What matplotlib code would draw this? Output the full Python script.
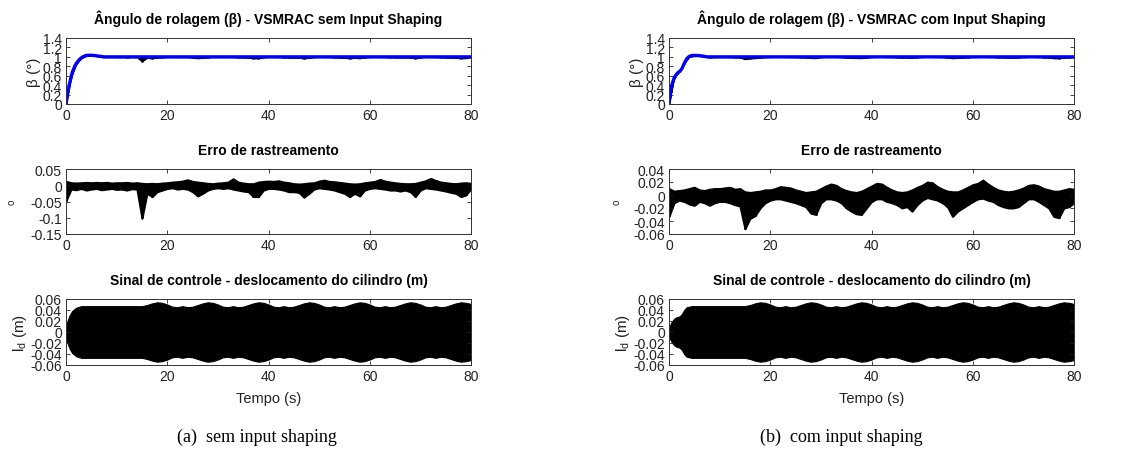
import numpy as np
import matplotlib
matplotlib.use('Agg')
import matplotlib.pyplot as plt
from matplotlib.ticker import FuncFormatter

plt.rcParams['font.family'] = ['Liberation Sans', 'DejaVu Sans']
plt.rcParams['axes.unicode_minus'] = False

# -------------------- dados --------------------
# referencia de beta (graus), sem / com input shaping
beta_t_sem = [0, 0.3, 0.66, 1.0, 1.3, 1.8, 2.3, 2.8, 3.3, 4.0, 4.6, 5.5, 6.5, 7.5, 80]
beta_sem = [0, 0.22, 0.41, 0.57, 0.69, 0.82, 0.90, 0.96, 1.0, 1.03, 1.035, 1.03, 1.015, 1.0, 1.0]
beta_t_com = [0, 0.3, 0.6, 1.0, 1.4, 1.8, 2.2, 2.6, 3.0, 3.5, 4.0, 4.6, 5.5, 6.5, 7.5, 80]
beta_com = [0, 0.25, 0.42, 0.55, 0.62, 0.67, 0.70, 0.76, 0.86, 0.96, 1.01, 1.03, 1.03, 1.02, 1.0, 1.0]

# erro de rastreamento: envoltoria superior / inferior a cada 1 s (t = 0..80)
err_t = list(range(81))
err_up_sem = [0.012, 0.008, 0.007, 0.008, 0.009, 0.008, 0.009, 0.008, 0.009, 0.007,
              0.008, 0.008, 0.009, 0.007, 0.008, 0.006, 0.005, 0.006, 0.005, 0.007,
              0.008, 0.010, 0.011, 0.013, 0.017, 0.012, 0.010, 0.008, 0.006, 0.005,
              0.007, 0.008, 0.010, 0.020, 0.010, 0.007, 0.005, 0.005, 0.010, 0.012,
              0.013, 0.012, 0.014, 0.010, 0.008, 0.005, 0.004, 0.005, 0.007, 0.008,
              0.013, 0.016, 0.012, 0.011, 0.009, 0.007, 0.005, 0.004, 0.005, 0.008,
              0.010, 0.012, 0.018, 0.013, 0.010, 0.008, 0.006, 0.005, 0.005, 0.006,
              0.010, 0.014, 0.021, 0.015, 0.010, 0.008, 0.006, 0.005, 0.007, 0.008,
              0.006]
err_lo_sem = [-0.048, -0.012, -0.014, -0.010, -0.015, -0.012, -0.010, -0.014, -0.012, -0.010,
              -0.013, -0.012, -0.015, -0.011, -0.012, -0.102, -0.025, -0.035, -0.020, -0.015,
              -0.010, -0.008, -0.012, -0.010, -0.012, -0.020, -0.033, -0.025, -0.015, -0.010,
              -0.008, -0.010, -0.008, -0.012, -0.015, -0.018, -0.020, -0.035, -0.035, -0.015,
              -0.010, -0.010, -0.012, -0.015, -0.020, -0.020, -0.022, -0.037, -0.025, -0.012,
              -0.008, -0.010, -0.012, -0.015, -0.020, -0.025, -0.035, -0.025, -0.033, -0.015,
              -0.010, -0.008, -0.010, -0.012, -0.015, -0.015, -0.018, -0.015, -0.020, -0.035,
              -0.015, -0.008, -0.010, -0.012, -0.015, -0.018, -0.022, -0.025, -0.035, -0.030,
              -0.010]
err_up_com = [0.010, 0.006, 0.007, 0.008, 0.010, 0.012, 0.008, 0.007, 0.009, 0.010,
              0.010, 0.011, 0.012, 0.009, 0.010, 0.005, 0.004, 0.005, 0.006, 0.008,
              0.008, 0.010, 0.013, 0.012, 0.011, 0.008, 0.006, 0.004, 0.005, 0.006,
              0.010, 0.014, 0.017, 0.015, 0.010, 0.007, 0.005, 0.004, 0.006, 0.010,
              0.014, 0.018, 0.017, 0.012, 0.008, 0.005, 0.004, 0.005, 0.008, 0.012,
              0.015, 0.020, 0.019, 0.013, 0.009, 0.006, 0.005, 0.005, 0.008, 0.012,
              0.016, 0.018, 0.023, 0.017, 0.012, 0.008, 0.006, 0.005, 0.006, 0.008,
              0.011, 0.015, 0.016, 0.014, 0.010, 0.008, 0.006, 0.006, 0.008, 0.010,
              0.009]
err_lo_com = [-0.033, -0.012, -0.008, -0.010, -0.014, -0.016, -0.010, -0.012, -0.016, -0.012,
              -0.010, -0.010, -0.012, -0.015, -0.017, -0.052, -0.036, -0.032, -0.020, -0.012,
              -0.008, -0.006, -0.006, -0.008, -0.010, -0.012, -0.015, -0.018, -0.028, -0.030,
              -0.012, -0.006, -0.006, -0.008, -0.012, -0.020, -0.025, -0.029, -0.030, -0.020,
              -0.010, -0.006, -0.006, -0.010, -0.012, -0.015, -0.020, -0.018, -0.025, -0.015,
              -0.008, -0.004, -0.006, -0.008, -0.012, -0.018, -0.033, -0.025, -0.020, -0.015,
              -0.010, -0.006, -0.005, -0.008, -0.010, -0.015, -0.018, -0.020, -0.020, -0.018,
              -0.012, -0.006, -0.006, -0.010, -0.015, -0.020, -0.033, -0.035, -0.020, -0.018,
              -0.012]

# sinal de controle: amplitude da envoltoria (m)
ctrl_t_sem = [0, 0.3, 0.7, 1.2, 2, 3]
ctrl_amp_sem = [0.008, 0.020, 0.030, 0.038, 0.044, 0.047]
ctrl_t_com = [0, 0.5, 1.0, 1.5, 2.0, 2.5, 3.0, 3.5]
ctrl_amp_com = [0.008, 0.018, 0.024, 0.027, 0.028, 0.032, 0.040, 0.045]
ctrl_t_tail = [4.5, 15, 16, 17, 18, 19, 20, 21, 22, 23, 24, 25, 26, 27, 28, 29, 30, 31, 32, 33,
               34, 35, 36, 37, 38, 39, 40, 41, 42, 43, 44, 45, 46, 47, 48, 49, 50, 51, 52, 53,
               54, 55, 56, 57, 58, 59, 60, 61, 62, 63, 64, 65, 66, 67, 68, 69, 70, 71, 72, 73,
               74, 75, 76, 77, 78, 79, 80]
ctrl_amp_tail = [0.047, 0.047, 0.049, 0.052, 0.054, 0.053, 0.050, 0.046, 0.045, 0.047,
                 0.045, 0.046, 0.049, 0.052, 0.054, 0.053, 0.050, 0.046, 0.045, 0.047,
                 0.045, 0.046, 0.049, 0.052, 0.054, 0.053, 0.050, 0.046, 0.045, 0.047,
                 0.045, 0.046, 0.049, 0.052, 0.054, 0.053, 0.050, 0.046, 0.045, 0.047,
                 0.045, 0.046, 0.049, 0.052, 0.054, 0.053, 0.050, 0.046, 0.045, 0.047,
                 0.045, 0.046, 0.049, 0.052, 0.054, 0.053, 0.050, 0.046, 0.045, 0.047,
                 0.045, 0.046, 0.049, 0.052, 0.054, 0.053, 0.051]

x_ticks = [0, 20, 40, 60, 80]
titles_top = ['Ângulo de rolagem (β) - VSMRAC sem Input Shaping',
              'Ângulo de rolagem (β) - VSMRAC com Input Shaping']
captions = ['(a)  sem input shaping', '(b)  com input shaping']

W, H = 1128, 460
fig = plt.figure(figsize=(W / 100, H / 100), dpi=100)


def px_axes(x0, y0, x1, y1):
    return fig.add_axes([x0 / W, 1 - y1 / H, (x1 - x0) / W, (y1 - y0) / H])


def style(ax, yticks, ylim):
    ax.set_xlim(0, 80)
    ax.set_ylim(*ylim)
    ax.set_xticks(x_ticks)
    ax.set_yticks(yticks)
    ax.yaxis.set_major_formatter(FuncFormatter(lambda v, p: '%g' % round(v, 4)))
    ax.tick_params(direction='in', top=True, right=True, length=3, width=0.6,
                   labelsize=10, colors='#222222', pad=3)
    for s in ax.spines.values():
        s.set_color('#333333')
        s.set_linewidth(0.7)


cols = [(66, 471), (669, 1074)]
data = [
    (beta_t_sem, beta_sem, err_up_sem, err_lo_sem, ctrl_t_sem, ctrl_amp_sem,
     [-0.15, -0.1, -0.05, 0, 0.05], (-0.15, 0.05)),
    (beta_t_com, beta_com, err_up_com, err_lo_com, ctrl_t_com, ctrl_amp_com,
     [-0.06, -0.04, -0.02, 0, 0.02, 0.04], (-0.06, 0.04)),
]
cap_x = [257, 841]

for k, (x0, x1) in enumerate(cols):
    bt, bv, up, lo, ct, ca, eticks, elim = data[k]
    et = np.array(err_t, dtype=float)
    up = np.array(up)
    lo = np.array(lo)

    # 1. angulo de rolagem (beta real em preto, referencia em azul)
    ax1 = px_axes(x0, 39, x1, 105)
    ref = np.interp(et, bt, bv)
    ax1.vlines(et, ref + lo, ref + up, color='k', lw=1.8)
    ax1.fill_between(et, ref + lo, ref + up, color='k', lw=0.6, edgecolor='k')
    ax1.plot(bt, bv, color='#0000ff', lw=2.4)
    style(ax1, [0, 0.2, 0.4, 0.6, 0.8, 1.0, 1.2, 1.4], (0, 1.4))
    ax1.set_title(titles_top[k], fontsize=10, fontweight='bold', pad=11)
    ax1.set_ylabel('β (°)', fontsize=11, color='#222222', labelpad=1)

    # 2. erro de rastreamento
    ax2 = px_axes(x0, 170, x1, 235)
    ax2.fill_between(et, lo, up, color='k', lw=1.4, edgecolor='k')
    ax2.vlines(et, lo, up, color='k', lw=2.0)
    style(ax2, eticks, elim)
    ax2.set_title('Erro de rastreamento', fontsize=10, fontweight='bold', pad=11)
    ax2.set_ylabel('o', fontsize=7, color='#222222', labelpad=10 if k == 0 else 8)

    # 3. sinal de controle
    ax3 = px_axes(x0, 300, x1, 366)
    t_all = np.array(ct + ctrl_t_tail, dtype=float)
    a_all = np.array(ca + ctrl_amp_tail)
    ax3.fill_between(t_all, -a_all, a_all, color='k', lw=0.8, edgecolor='k')
    style(ax3, [-0.06, -0.04, -0.02, 0, 0.02, 0.04, 0.06], (-0.06, 0.06))
    ax3.set_title('Sinal de controle - deslocamento do cilindro (m)', fontsize=10,
                  fontweight='bold', pad=11)
    ax3.set_ylabel(r'l$_\mathregular{d}$ (m)', fontsize=11, color='#222222', labelpad=1)
    ax3.set_xlabel('Tempo (s)', fontsize=10.5, color='#222222', labelpad=6)

    fig.text(cap_x[k] / W, 1 - 437 / H, captions[k], family='Liberation Serif',
             fontsize=13, ha='center', va='center')

fig.savefig('out.png', dpi=100)
